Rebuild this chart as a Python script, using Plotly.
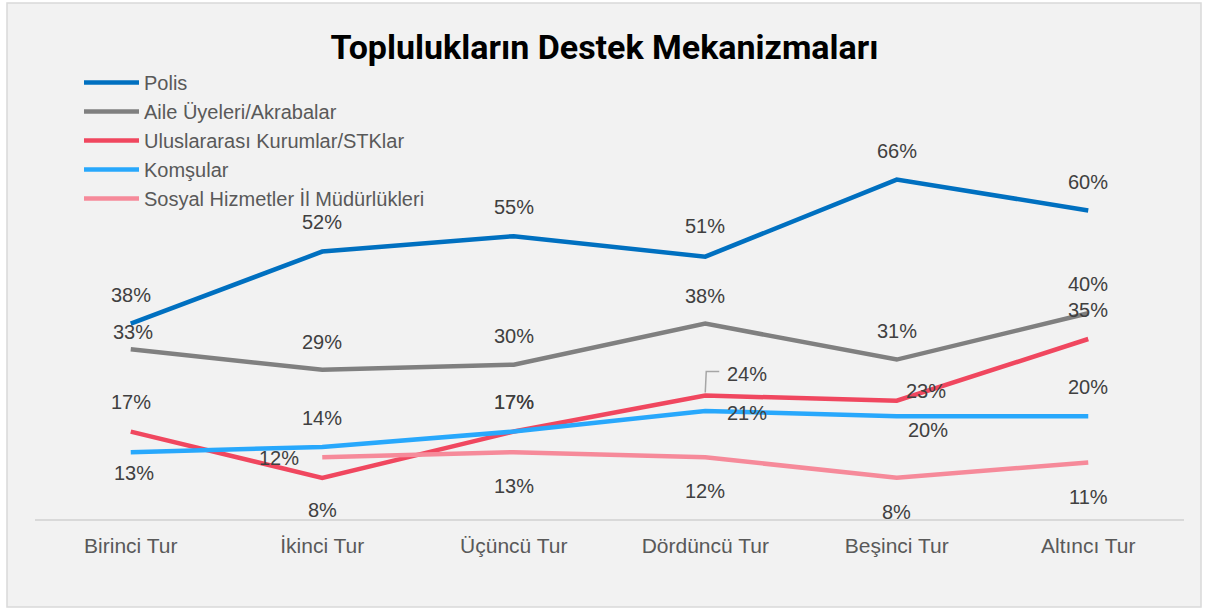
import plotly.graph_objects as go

categories = ["Birinci Tur", "İkinci Tur", "Üçüncü Tur", "Dördüncü Tur", "Beşinci Tur", "Altıncı Tur"]
series_names = ["Polis", "Aile Üyeleri/Akrabalar", "Uluslararası Kurumlar/STKlar", "Komşular",
                "Sosyal Hizmetler İl Müdürlükleri"]
polis = [38, 52, 55, 51, 66, 60]
aile = [33, 29, 30, 38, 31, 40]
uluslararasi = [17, 8, 17, 24, 23, 35]
komsular = [13, 14, 17, 21, 20, 20]
sosyal = [None, 12, 13, 12, 8, 11]

values = [polis, aile, uluslararasi, komsular, sosyal]
colors = ["#0070C0", "#808080", "#F0475F", "#28A8FC", "#F68A9A"]

# label offsets (px, screen: +dy downward)
offsets = [
    [(0, -29), (0, -30), (0, -29), (0, -31), (0, -29), (0, -28)],
    [(2, -17), (0, -28), (0, -29), (0, -28), (0, -29), (0, -29)],
    [(0, -30), (0, 32), (0, -30), (42, -22), (29, -10), (0, -29)],
    [(3, 21), (0, -29), (0, -30), (42, 2), (31, 14), (0, -29)],
    [None, (-43, 1), (0, 34), (0, 34), (0, 34), (0, 35)],
]

W, H = 1209, 610
L, R, T, B = 35, 25, 159, 91
YMAX = 70

fig = go.Figure()
for name, vals, col in zip(series_names, values, colors):
    fig.add_trace(go.Scatter(
        x=categories, y=vals, name=name, mode="lines",
        line=dict(color=col, width=4.5), connectgaps=False,
        hoverinfo="skip",
    ))

annotations = []
for vals, offs in zip(values, offsets):
    for cat, v, off in zip(categories, vals, offs):
        if v is None or off is None:
            continue
        annotations.append(dict(
            x=cat, y=v, xref="x", yref="y", text=f"{v}%", showarrow=False,
            xshift=off[0], yshift=-off[1],
            font=dict(family="Liberation Sans, Arial", size=20, color="#404040"),
        ))

plot_h = H - T - B
plot_w = W - L - R
def px2paper_x(px):
    return (px - L) / plot_w
def px2paper_y(py):
    return (H - B - py) / plot_h

shapes = [
    dict(type="rect", xref="paper", yref="paper", layer="below",
         x0=px2paper_x(7), x1=px2paper_x(1201), y0=px2paper_y(607), y1=px2paper_y(3),
         fillcolor="#F2F2F2", line=dict(color="#D9D9D9", width=1.5)),
    # leader line for 24% label
    dict(type="path", xref="x", yref="y", xsizemode="pixel", ysizemode="pixel",
         xanchor=3, yanchor=uluslararasi[3],
         path="M0,3 L1,24 L14,24", line=dict(color="#A6A6A6", width=1.5)),
]

fig.update_layout(
    width=W, height=H,
    margin=dict(l=L, r=R, t=T, b=B, autoexpand=False),
    paper_bgcolor="white",
    plot_bgcolor="rgba(0,0,0,0)",
    title=dict(text="<b>Toplulukların Destek Mekanizmaları</b>",
               x=0.5, xref="container", y=1 - 47 / H, yref="container",
               xanchor="center", yanchor="middle",
               font=dict(family="Roboto", size=34, color="#000000")),
    legend=dict(xref="container", yref="container", x=79 / W, y=1 - 63 / H,
                xanchor="left", yanchor="top", bgcolor="rgba(0,0,0,0)",
                font=dict(family="Liberation Sans, Arial", size=20, color="#595959"),
                tracegroupgap=0, itemwidth=55),
    showlegend=True,
    hovermode=False,
    xaxis=dict(showline=True, linecolor="#D9D9D9", linewidth=2, showgrid=False,
               range=[-0.5, len(categories) - 0.5],
               zeroline=False, ticks="", ticklabelstandoff=7,
               tickfont=dict(family="Liberation Sans, Arial", size=21, color="#595959")),
    yaxis=dict(range=[0, YMAX], visible=False, showgrid=False, zeroline=False),
    annotations=annotations,
    shapes=shapes,
)

fig.write_html("out.html", config={"displayModeBar": False},
               post_script="document.body.style.margin='0';")
